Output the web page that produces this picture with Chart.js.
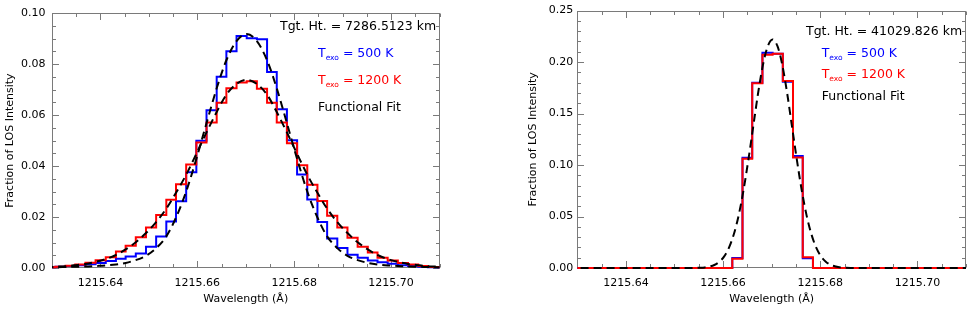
<!DOCTYPE html>
<html>
<head>
<meta charset="utf-8">
<script src="https://cdn.jsdelivr.net/npm/chart.js@4.4.1/dist/chart.umd.min.js"></script>
<style>
  html, body { margin: 0; padding: 0; background: #ffffff; }
  #wrap { position: relative; width: 969px; height: 309px; overflow: hidden; background: #fff; }
  canvas { position: absolute; top: 0; }
</style>
</head>
<body>
<div id="wrap">
  <canvas id="left" width="480" height="309" style="left:0px;width:480px;height:309px"></canvas>
  <canvas id="right" width="446" height="309" style="left:523px;width:446px;height:309px"></canvas>
</div>
<script>
// ---------------- DATA ----------------
// histogram bin edges (Angstrom), 40 bins
const binEdges = [1215.6286, 1215.6307, 1215.6328, 1215.6348, 1215.6369, 1215.6390, 1215.6411, 1215.6432,
  1215.6452, 1215.6473, 1215.6494, 1215.6515, 1215.6536, 1215.6556, 1215.6577, 1215.6598, 1215.6619,
  1215.6640, 1215.6660, 1215.6681, 1215.6702, 1215.6723, 1215.6744, 1215.6764, 1215.6785, 1215.6806,
  1215.6827, 1215.6848, 1215.6868, 1215.6889, 1215.6910, 1215.6931, 1215.6952, 1215.6972, 1215.6993,
  1215.7014, 1215.7035, 1215.7056, 1215.7076, 1215.7097, 1215.7118];

// Left panel (Tgt. Ht. = 7286.5123 km)
const blueLeft = [0.0003, 0.0005, 0.0008, 0.0011, 0.0015, 0.0020, 0.0027, 0.0036, 0.0045, 0.0057,
  0.0083, 0.0124, 0.0182, 0.0262, 0.0376, 0.0499, 0.0619, 0.0750, 0.0850, 0.0910,
  0.0901, 0.0897, 0.0769, 0.0623, 0.0501, 0.0367, 0.0269, 0.0180, 0.0116, 0.0078,
  0.0052, 0.0040, 0.0029, 0.0023, 0.0017, 0.0011, 0.0008, 0.0005, 0.0003, 0.0002];
const redLeft = [0.0003, 0.0005, 0.0009, 0.0014, 0.0021, 0.0030, 0.0042, 0.0065, 0.0087, 0.0121,
  0.0159, 0.0208, 0.0268, 0.0329, 0.0406, 0.0492, 0.0571, 0.0648, 0.0705, 0.0728,
  0.0733, 0.0703, 0.0648, 0.0571, 0.0489, 0.0403, 0.0327, 0.0263, 0.0205, 0.0159,
  0.0119, 0.0083, 0.0061, 0.0040, 0.0029, 0.0020, 0.0014, 0.0008, 0.0004, 0.0003];
// functional fits, sampled at the bin edges
const fitBlueLeft = [0.0003, 0.0003, 0.0004, 0.0005, 0.0006, 0.0008, 0.0010, 0.0014, 0.0020, 0.0031,
  0.0048, 0.0078, 0.0124, 0.0198, 0.0300, 0.0428, 0.0568, 0.0705, 0.0815, 0.0890,
  0.0918,
  0.0890, 0.0815, 0.0705, 0.0568, 0.0428, 0.0300, 0.0198, 0.0124, 0.0078, 0.0048,
  0.0031, 0.0020, 0.0014, 0.0010, 0.0008, 0.0006, 0.0005, 0.0004, 0.0003, 0.0003];
const fitRedLeft = [0.0003, 0.0005, 0.0007, 0.0011, 0.0016, 0.0024, 0.0035, 0.0051, 0.0073, 0.0101,
  0.0137, 0.0180, 0.0233, 0.0295, 0.0366, 0.0448, 0.0532, 0.0612, 0.0680, 0.0722,
  0.0738,
  0.0722, 0.0680, 0.0612, 0.0532, 0.0448, 0.0366, 0.0295, 0.0233, 0.0180, 0.0137,
  0.0101, 0.0073, 0.0051, 0.0035, 0.0024, 0.0016, 0.0011, 0.0007, 0.0005, 0.0003];

// Right panel (Tgt. Ht. = 41029.826 km)
const blueRight = [0, 0, 0, 0, 0, 0, 0, 0, 0, 0, 0, 0, 0, 0, 0, 0,
  0.0098, 0.1070, 0.1800, 0.2090, 0.2080, 0.1810, 0.1087, 0.0095,
  0, 0, 0, 0, 0, 0, 0, 0, 0, 0, 0, 0, 0, 0, 0, 0];
const redRight = [0, 0, 0, 0, 0, 0, 0, 0, 0, 0, 0, 0, 0, 0, 0, 0,
  0.0090, 0.1060, 0.1795, 0.2070, 0.2080, 0.1817, 0.1074, 0.0105,
  0, 0, 0, 0, 0, 0, 0, 0, 0, 0, 0, 0, 0, 0, 0, 0];
const fitRightX = [1215.6280, 1215.6502, 1215.6542, 1215.6552, 1215.6562, 1215.6572, 1215.6582, 1215.6592,
  1215.6602, 1215.6612, 1215.6622, 1215.6632, 1215.6642, 1215.6652, 1215.6662, 1215.6672, 1215.6682,
  1215.6692, 1215.6702, 1215.6712, 1215.6722, 1215.6732, 1215.6742, 1215.6752, 1215.6762, 1215.6772,
  1215.6782, 1215.6792, 1215.6802, 1215.6812, 1215.6822, 1215.6832, 1215.6842, 1215.6852, 1215.6862,
  1215.6902, 1215.7120];
const fitRightY = [0, 0, 0.0001, 0.0003, 0.0006, 0.0014, 0.0029, 0.0059,
  0.0110, 0.0195, 0.0325, 0.0509, 0.0753, 0.1048, 0.1370, 0.1695, 0.1970,
  0.2154, 0.2220, 0.2154, 0.1970, 0.1695, 0.1370, 0.1048, 0.0753, 0.0509,
  0.0325, 0.0195, 0.0110, 0.0059, 0.0029, 0.0014, 0.0006, 0.0003, 0.0001,
  0, 0];

// Axes / tick labels
const xRange = [1215.63, 1215.71];
const xTickLabels = [1215.64, 1215.66, 1215.68, 1215.70];
const yTicksLeft = [0.00, 0.02, 0.04, 0.06, 0.08, 0.10];
const yTicksRight = [0.00, 0.05, 0.10, 0.15, 0.20, 0.25];
const yTitle = 'Fraction of LOS Intensity';
const xTitle = 'Wavelength (Å)';
const legendLeft = ['Tgt. Ht. = 7286.5123 km', '500 K', '1200 K', 'Functional Fit'];
const legendRight = ['Tgt. Ht. = 41029.826 km', '500 K', '1200 K', 'Functional Fit'];

// ---------------- DRAWING ----------------
const FONT = 'DejaVu Sans';
const FRAME = '#7a7a7a';

function stepPoints(edges, vals) {
  return edges.map((e, i) => ({ x: e, y: vals[Math.min(i, vals.length - 1)] }));
}
function pairPoints(xs, ys) { return xs.map((x, i) => ({ x: x, y: ys[i] })); }

const framePlugin = {
  id: 'frame',
  beforeDatasetsDraw(chart, args, opts) {
    const { ctx, chartArea } = chart;
    const xs = chart.scales.x, ys = chart.scales.y;
    const L = Math.round(chartArea.left) + 0.5, R = Math.round(chartArea.right) - 0.5;
    const T = Math.round(chartArea.top) + 0.5, B = Math.round(chartArea.bottom) - 0.5;
    ctx.save();
    ctx.strokeStyle = FRAME;
    ctx.lineWidth = 1;
    ctx.strokeRect(L, T, R - L, B - T);
    ctx.beginPath();
    const near = (v, arr) => arr.some(a => Math.abs(a - v) < 1e-7);
    for (let i = 0; ; i++) {
      const v = opts.xMin + i * opts.xMinor;
      if (v > opts.xMax + 1e-9) break;
      const px = Math.round(xs.getPixelForValue(v)) + 0.5;
      const len = near(v, opts.xMajor) ? 6.5 : 3.5;
      ctx.moveTo(px, B); ctx.lineTo(px, B - len);
      ctx.moveTo(px, T); ctx.lineTo(px, T + len);
    }
    for (let i = 0; ; i++) {
      const v = opts.yMin + i * opts.yMinor;
      if (v > opts.yMax + 1e-9) break;
      const py = Math.round(ys.getPixelForValue(v)) + 0.5;
      const len = near(v, opts.yMajor) ? 6.5 : 3.5;
      ctx.moveTo(L, py); ctx.lineTo(L + len, py);
      ctx.moveTo(R, py); ctx.lineTo(R - len, py);
    }
    ctx.stroke();
    ctx.restore();
  }
};

const legendPlugin = {
  id: 'textLegend',
  afterDatasetsDraw(chart, args, o) {
    const ctx = chart.ctx;
    ctx.save();
    ctx.textBaseline = 'alphabetic';
    ctx.textAlign = 'left';
    const big = '12.5px "' + FONT + '"', small = '7.5px "' + FONT + '"';
    ctx.font = big; ctx.fillStyle = '#000';
    ctx.fillText(o.texts[0], o.x0, o.ys[0]);
    const drawTexo = (txt, color, y) => {
      ctx.fillStyle = color;
      ctx.font = big;
      let x = o.x1;
      ctx.fillText('T', x, y); x += ctx.measureText('T').width;
      ctx.font = small;
      ctx.fillText('exo', x, y + 3); x += ctx.measureText('exo').width;
      ctx.font = big;
      ctx.fillText(' = ' + txt, x, y);
    };
    drawTexo(o.texts[1], '#0000ff', o.ys[1]);
    drawTexo(o.texts[2], '#ff0000', o.ys[2]);
    ctx.font = big; ctx.fillStyle = '#000';
    ctx.fillText(o.texts[3], o.x1, o.ys[3]);
    ctx.restore();
  }
};

function makeChart(id, p) {
  const tickFont = { family: FONT, size: 11 };
  const clip = { left: 0, right: 0, top: 0, bottom: 2 };
  return new Chart(document.getElementById(id), {
    type: 'line',
    data: {
      datasets: p.fits.map(f => ({
        data: f, borderColor: '#000000', borderWidth: 2, borderDash: [8, 5],
        pointRadius: 0, cubicInterpolationMode: 'monotone', order: 0, clip: clip
      })).concat([
        { data: stepPoints(binEdges, p.red), stepped: 'before', borderColor: '#ff0000', borderWidth: 2,
          pointRadius: 0, order: 1, clip: clip },
        { data: stepPoints(binEdges, p.blue), stepped: 'before', borderColor: '#0000ff', borderWidth: 2,
          pointRadius: 0, order: 2, clip: clip }
      ])
    },
    options: {
      responsive: false, animation: false, devicePixelRatio: 1,
      layout: { padding: { left: 0, right: p.padRight, top: 7.5, bottom: 0 } },
      plugins: {
        legend: { display: false }, tooltip: { enabled: false },
        frame: { xMin: xRange[0], xMax: xRange[1], xMinor: 0.005, xMajor: xTickLabels,
                 yMin: 0, yMax: p.yTicks[p.yTicks.length - 1], yMinor: p.yMinor, yMajor: p.yTicks },
        textLegend: p.legend
      },
      scales: {
        x: {
          type: 'linear', min: xRange[0], max: xRange[1],
          grid: { display: false, drawTicks: false, tickLength: 0 }, border: { display: false },
          afterBuildTicks: s => { s.ticks = xTickLabels.map(v => ({ value: v })); },
          afterFit: s => { s.height = 41; },
          ticks: { font: tickFont, color: '#000', padding: 9, maxRotation: 0, autoSkip: false,
                   callback: v => Number(v).toFixed(2) },
          title: { display: true, text: xTitle, font: tickFont, color: '#000', padding: { top: 0, bottom: 3 } }
        },
        y: {
          type: 'linear', min: 0, max: p.yTicks[p.yTicks.length - 1],
          grid: { display: false, drawTicks: false, tickLength: 0 }, border: { display: false },
          afterBuildTicks: s => { s.ticks = p.yTicks.map(v => ({ value: v })); },
          afterFit: s => { s.width = p.yWidth; },
          ticks: { font: tickFont, color: '#000', padding: p.yPad, autoSkip: false,
                   callback: v => Number(v).toFixed(2) },
          title: { display: true, text: yTitle, font: tickFont, color: '#000', padding: { top: 3.4, bottom: 0 } }
        }
      }
    },
    plugins: [framePlugin, legendPlugin]
  });
}

makeChart('left', {
  blue: blueLeft, red: redLeft,
  fits: [pairPoints(binEdges, fitBlueLeft), pairPoints(binEdges, fitRedLeft)],
  yTicks: yTicksLeft, yMinor: 0.005, padRight: 40.5, yWidth: 52, yPad: 6.5,
  legend: { texts: legendLeft, x0: 280, x1: 318, ys: [30, 56.7, 84, 111] }
});
makeChart('right', {
  blue: blueRight, red: redRight,
  fits: [pairPoints(fitRightX, fitRightY)],
  yTicks: yTicksRight, yMinor: 0.01, padRight: 3, yWidth: 54.3, yPad: 4,
  legend: { texts: legendRight, x0: 283, x1: 298.7, ys: [35, 57, 78, 99.5] }
});
</script>
</body>
</html>
